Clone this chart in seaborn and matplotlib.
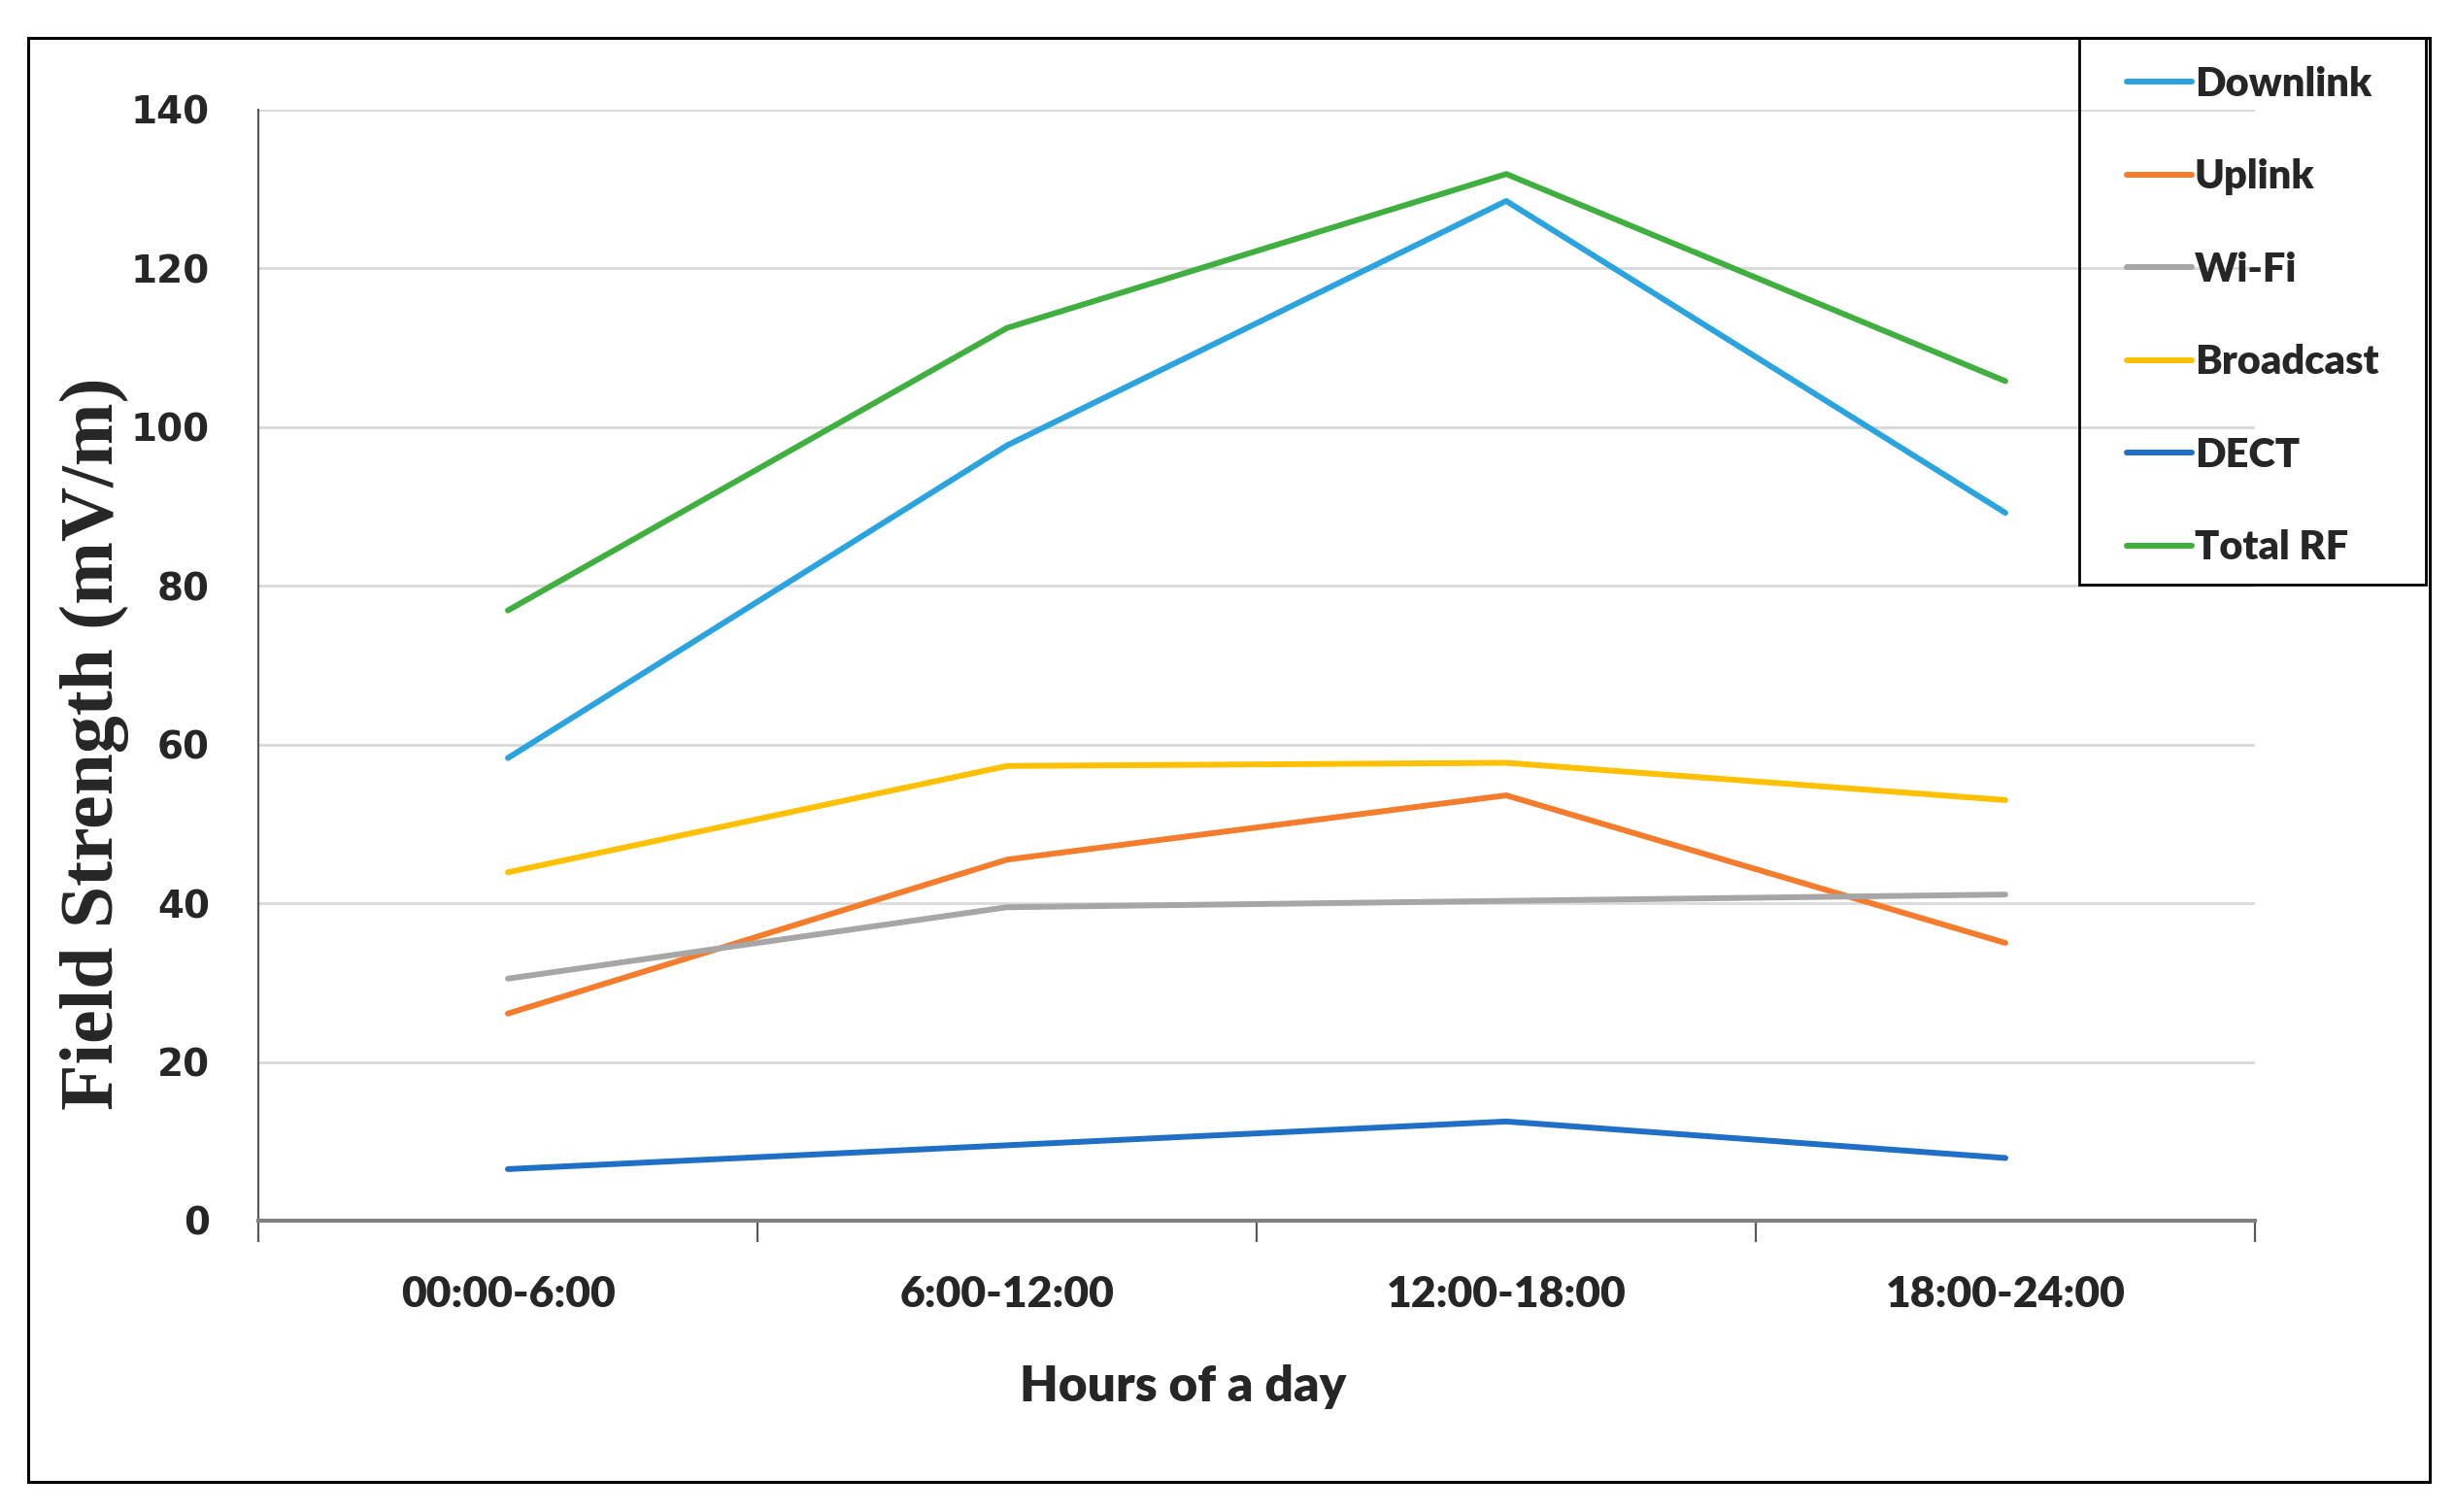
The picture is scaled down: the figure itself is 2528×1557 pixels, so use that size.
import numpy as np
import pandas as pd
import matplotlib
matplotlib.use("Agg")
import matplotlib.pyplot as plt
from matplotlib.patches import Rectangle
import seaborn as sns

# values
hours = ["00:00-6:00", "6:00-12:00", "12:00-18:00", "18:00-24:00"]
downlink = [58.3, 97.7, 128.5, 89.2]
uplink = [26.1, 45.5, 53.6, 35.0]
wifi = [30.5, 39.5, 40.3, 41.1]
broadcast = [43.9, 57.3, 57.7, 53.0]
dect = [6.5, 9.5, 12.5, 7.9]
total_rf = [76.9, 112.5, 131.9, 105.8]

series = ["Downlink", "Uplink", "Wi-Fi", "Broadcast", "DECT", "Total RF"]
colors = ["#2AA3DF", "#F47C2C", "#A6A6A6", "#FFC000", "#1F6FC6", "#3FAF3F"]

df = pd.DataFrame({
    "hours": hours * 6,
    "value": downlink + uplink + wifi + broadcast + dect + total_rf,
    "series": np.repeat(series, len(hours)),
})

sns.set_style("white")
plt.rcParams["font.family"] = ["Lato", "DejaVu Sans"]

W, H = 2528, 1557
fig = plt.figure(figsize=(W / 100, H / 100), dpi=100)
ax = fig.add_axes([266 / W, 1 - 1257 / H, (2322 - 266) / W, (1257 - 113) / H])

sns.lineplot(data=df, x="hours", y="value", hue="series", hue_order=series,
             palette=colors, linewidth=4.3, sort=False, legend=False, ax=ax)

ax.set_xlim(-0.5, 3.5)
ax.set_ylim(0, 140)
ax.set_yticks(np.arange(0, 141, 20))
ax.set_xticks(range(len(hours)))
ax.set_xticklabels(hours, fontsize=32, fontweight="heavy", family=["Lato"])
ax.set_xticks(np.arange(-0.5, 3.6, 1), minor=True)
ax.tick_params(axis="x", which="major", bottom=False, length=0, pad=40)
ax.tick_params(axis="x", which="minor", bottom=True, length=16, width=1.6,
               color="#595959", direction="out")
ax.tick_params(axis="y", left=False, length=0, pad=36)
for lab in ax.get_yticklabels():
    lab.set_family(["DejaVu Sans"])
    lab.set_fontsize(28)
    lab.set_fontweight("bold")
ax.grid(axis="y", color="#D9D9D9", linewidth=2)
ax.set_axisbelow(True)
for side in ["top", "right"]:
    ax.spines[side].set_visible(False)
ax.spines["left"].set_color("#595959")
ax.spines["left"].set_linewidth(1.6)
ax.spines["bottom"].set_color("#7F7F7F")
ax.spines["bottom"].set_linewidth(3)
ax.set_xlabel("")
ax.set_ylabel("")

fig.text(97 / W, 1 - 766 / H, "Field Strength (mV/m)", rotation=90, ha="center", va="center",
         family=["Liberation Serif"], fontweight="bold", fontsize=56)
fig.text(1218 / W, 1 - 1428 / H, "Hours of a day", ha="center", va="center",
         fontsize=37, fontweight="heavy")

# legend box and outer frame
fig.patches.append(Rectangle((2141 / W, 1 - 602 / H), (2498 - 2141) / W, (602 - 39) / H,
                             transform=fig.transFigure, fill=False, edgecolor="black", linewidth=2))
fig.patches.append(Rectangle((29 / W, 1 - 1526 / H), (2502 - 29) / W, (1526 - 39) / H,
                             transform=fig.transFigure, fill=False, edgecolor="black", linewidth=2.2))

handles = [plt.Line2D([], [], color=c, linewidth=4.3) for c in colors]
fig.legend(handles, series, loc="upper left", bbox_to_anchor=(2169 / W, 1 - 47 / H),
           frameon=False, prop={"weight": "heavy", "size": 30},
           handlelength=1.6, handletextpad=0.08, labelspacing=1.38, borderpad=0)

fig.savefig("out.png", dpi=100)
